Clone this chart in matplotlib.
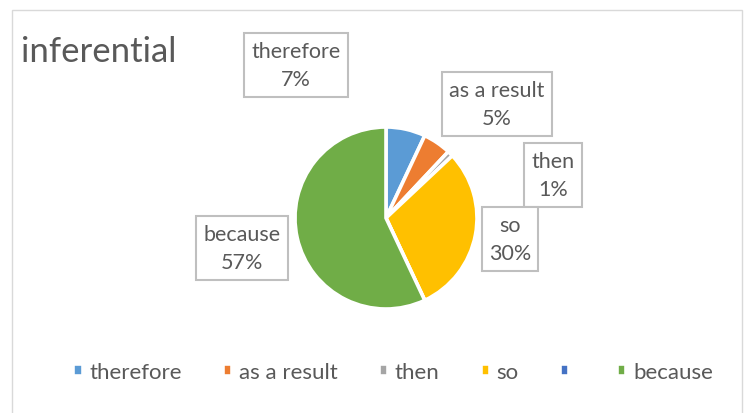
import matplotlib.pyplot as plt
from matplotlib.patches import Rectangle

# Data (percent of total)
categories = ["therefore", "as a result", "then", "so", "", "because"]
shares = [7, 5, 1, 30, 0, 57]

# Excel office palette
colors = ["#5B9BD5", "#ED7D31", "#A5A5A5", "#FFC000", "#4472C4", "#70AD47"]
text_color = "#595959"

# label box centres in pixels (x, y from top); the blank slice gets none
label_pos = [(296, 66), (497, 105), (553, 176), (510, 240), None, (242, 249)]

W, H = 749, 414
plt.rcParams['font.family'] = ['Lato', 'DejaVu Sans']

fig = plt.figure(figsize=(W / 100, H / 100), dpi=100)

# outer chart frame
fig.patches.append(Rectangle((12 / W, -0.01), 730 / W, 1 - 11 / H + 0.01,
                             transform=fig.transFigure, fill=False,
                             edgecolor="#D9D9D9", linewidth=1))

# pie area: centre (386, 219) px, radius 91 px
cx, cy, r = 386, 219, 91
ax = fig.add_axes([(cx - r) / W, (H - cy - r) / H, 2 * r / W, 2 * r / H])
wedges, _ = ax.pie(shares, colors=colors, startangle=90, counterclock=False,
                   radius=1, wedgeprops=dict(edgecolor="white", linewidth=2.6))
ax.set_xlim(-1, 1)
ax.set_ylim(-1, 1)
ax.set_aspect("equal")
ax.axis("off")

# data labels in boxes
for cat, val, pos in zip(categories, shares, label_pos):
    if pos is None:
        continue
    fig.text(pos[0] / W, 1 - pos[1] / H, f"{cat}\n{val}%", ha="center",
             va="center", fontsize=15.5, color=text_color, linespacing=1.55,
             bbox=dict(boxstyle="square,pad=0.33", facecolor="white",
                       edgecolor="#BFBFBF", linewidth=1.5))

# title
fig.text(21 / W, 1 - 52 / H, "inferential", ha="left", va="center",
         fontsize=25, color=text_color)

# legend
fig.legend(wedges, categories, loc="center", bbox_to_anchor=(393 / W, 1 - 373 / H),
           ncol=6, frameon=False, fontsize=16, labelcolor=text_color,
           handlelength=0.42, handleheight=0.42, handletextpad=0.3,
           columnspacing=1.85)

fig.savefig("out.png", dpi=100)
